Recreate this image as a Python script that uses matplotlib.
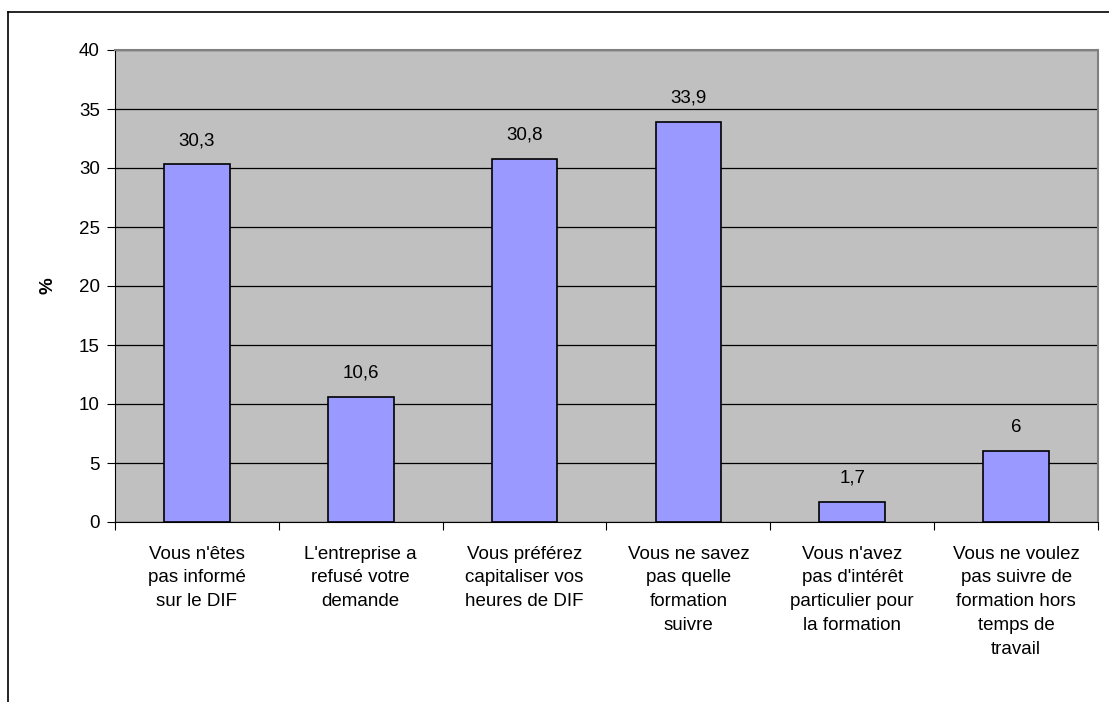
import numpy as np
import matplotlib
matplotlib.use("Agg")
import matplotlib.pyplot as plt
from matplotlib.lines import Line2D

plt.rcParams['font.family'] = ['Liberation Sans', 'DejaVu Sans']

# données
categories = [
    "Vous n'êtes\npas informé\nsur le DIF",
    "L'entreprise a\nrefusé votre\ndemande",
    "Vous préférez\ncapitaliser vos\nheures de DIF",
    "Vous ne savez\npas quelle\nformation\nsuivre",
    "Vous n'avez\npas d'intérêt\nparticulier pour\nla formation",
    "Vous ne voulez\npas suivre de\nformation hors\ntemps de\ntravail",
]
values = [30.3, 10.6, 30.8, 33.9, 1.7, 6]
value_labels = ["30,3", "10,6", "30,8", "33,9", "1,7", "6"]
yticks = [0, 5, 10, 15, 20, 25, 30, 35, 40]

FS = 13.5

fig = plt.figure(figsize=(11.09, 7.02), dpi=100)
ax = fig.add_axes([115 / 1109, 1 - 522 / 702, (1098 - 115) / 1109, (522 - 50) / 702])
ax.set_facecolor('#C0C0C0')

x = np.arange(len(categories))
ax.bar(x, values, width=0.4, color='#9999FF', edgecolor='black', linewidth=1.2, zorder=3)

for xi, v, lab in zip(x, values, value_labels):
    ax.annotate(lab, (xi, v), xytext=(0, 11), textcoords='offset points',
                ha='center', va='bottom', fontsize=FS)

ax.set_xlim(-0.5, len(categories) - 0.5)
ax.set_ylim(0, 40)
ax.set_yticks(yticks)
ax.set_yticklabels([str(t) for t in yticks], fontsize=FS)
ax.yaxis.grid(True, color='black', linewidth=0.9, zorder=0)
ax.set_axisbelow(True)

# ticks x aux limites des catégories
ax.set_xticks(np.arange(-0.5, len(categories), 1.0))
ax.set_xticklabels([])
ax.set_xticks(x, minor=True)
ax.set_xticklabels(categories, minor=True, fontsize=FS, linespacing=1.52, va='top')
ax.tick_params(axis='x', which='minor', length=0, pad=17)
ax.tick_params(axis='x', which='major', length=6, direction='out', color='black')
ax.tick_params(axis='y', length=6, direction='out', pad=5)

ax.set_ylabel('%', fontsize=FS, fontweight='bold', labelpad=16)

for side in ['top', 'right']:
    ax.spines[side].set_color('#808080')
    ax.spines[side].set_linewidth(1.5)
ax.spines['left'].set_color('black')
ax.spines['bottom'].set_color('black')

# cadre extérieur (partiel)
fig.add_artist(Line2D([8 / 1109, 8 / 1109], [0, 1 - 12 / 702], color='black', linewidth=1.2))
fig.add_artist(Line2D([8 / 1109, 1], [1 - 12 / 702, 1 - 12 / 702], color='black', linewidth=1.2))

fig.savefig('out.png', dpi=100)
